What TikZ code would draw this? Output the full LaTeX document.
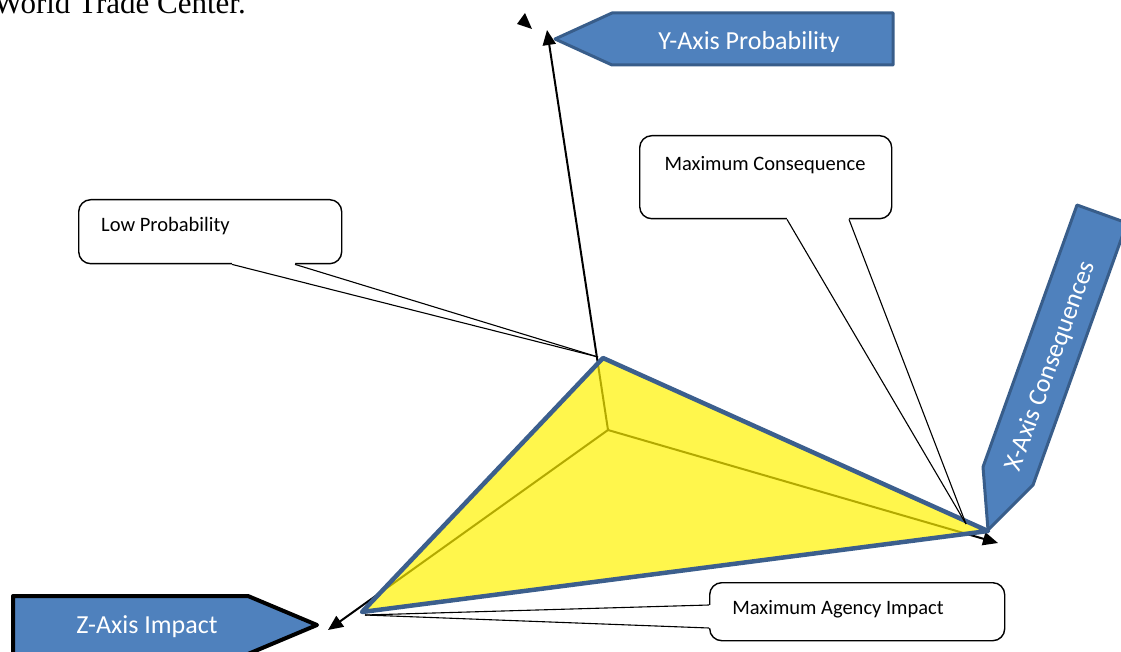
\documentclass[tikz,border=0pt]{standalone}
\usepackage{fontspec}
\setmainfont{Liberation Serif}
\setsansfont{Carlito}
\usetikzlibrary{arrows.meta,calc}
\definecolor{axisblue}{HTML}{4F81BD}
\definecolor{axisedge}{HTML}{385D8A}
\definecolor{pyredge}{HTML}{3C5F8D}
\begin{document}
\begin{tikzpicture}[x=1pt,y=-1pt,
  axistag/.style={fill=axisblue,draw=axisedge,line width=3pt,line join=round},
  axislabel/.style={text=white,font=\sffamily\fontsize{26}{30}\selectfont,inner sep=0pt},
  axisline/.style={line width=2pt,-{Triangle[length=15pt,width=13pt]}},
  callout/.style={draw=black,line width=1.4pt,fill=white,rounded corners=12pt,inner sep=0pt},
  callouttext/.style={font=\sffamily\fontsize{20.5}{24}\selectfont,inner sep=0pt},
  pointer/.style={line width=1.1pt}]
\clip (0,0) rectangle (1121,652);

% heading line of the surrounding text
\node[font=\fontsize{31}{35}\selectfont,anchor=base east,inner sep=0pt] (wtc) at (246,14) {World Trade Center.};

% axis tags
\draw[axistag] (612,13) -- (893,13) -- (893,65) -- (612,65) -- (555,39) -- cycle;
\begin{scope}
  \clip (600,13) rectangle (893,51.5);
  \node[axislabel,anchor=base] (ylab) at (749,50) {Y-Axis Probability};
\end{scope}
\draw[axistag] (988,530) -- (983,467) -- (1077,205) -- (1127,223) -- (1033,485) -- cycle;
\node[axislabel,rotate=70] (xlab) at (1051,366) {X-Axis Consequences};
\draw[axistag,draw=black,line width=4pt] (13,596) -- (248,596) -- (317,625) -- (248,654) -- (13,654) -- cycle;
\node[axislabel,anchor=base] (zlab) at (147,633) {Z-Axis Impact};

% stray arrowhead
\fill (517,24) -- (525,13) -- (532,29) -- cycle;

% axes from the origin
\coordinate (O) at (608,430);
\coordinate (ytip) at (547,30);
\coordinate (ztip) at (328,630);
\coordinate (xtip) at (998,543);
\draw[axisline] (O) -- (ytip);
\draw[axisline] (O) -- (ztip);
\draw[axisline] (O) -- (xtip);

% pyramid face
\coordinate (A) at (603,358);
\coordinate (L) at (362,612);
\coordinate (R) at (988,531);
\fill[yellow,fill opacity=0.7] (A) -- (R) -- (L) -- cycle;
\draw[pyredge,line width=4.5pt,line join=round] (A) -- (R) -- (L) -- cycle;

% callouts
\node[callout,anchor=north west,minimum width=263pt,minimum height=64pt] (lowprob) at (78,199) {};
\node[callout,anchor=north west,minimum width=252pt,minimum height=83pt] (maxcons) at (639,135) {};
\node[callout,anchor=north west,minimum width=295pt,minimum height=58pt] (maxagency) at (709,582) {};

\coordinate (lpTip) at (598,357);
\coordinate (mcTip) at (966,524);
\coordinate (maTip) at (365,615);

% low probability pointer
\coordinate (lp1) at ($(lowprob.south west)+(154,0)$);
\coordinate (lp2) at ($(lowprob.south west)+(217,0)$);
\fill[white] ($(lp1)+(0,-3)$) -- (lp1) -- (lpTip) -- (lp2) -- ($(lp2)+(0,-3)$) -- cycle;
\draw[pointer] (lp1) -- (lpTip);
\draw[pointer] (lp2) -- (lpTip);

% maximum consequence pointer
\coordinate (mc1) at ($(maxcons.south west)+(148,0)$);
\coordinate (mc2) at ($(maxcons.south west)+(210,0)$);
\fill[white] ($(mc1)+(0,-3)$) -- (mc1) -- (mcTip) -- (mc2) -- ($(mc2)+(0,-3)$) -- cycle;
\draw[pointer] (mc1) -- (mcTip);
\draw[pointer] (mc2) -- (mcTip);

% maximum agency impact pointer
\coordinate (ma1) at ($(maxagency.north west)+(0,23)$);
\coordinate (ma2) at ($(maxagency.north west)+(0,46)$);
\fill[white] ($(ma1)+(3,0)$) -- (ma1) -- (maTip) -- (ma2) -- ($(ma2)+(3,0)$) -- cycle;
\draw[pointer] (ma1) -- (maTip);
\draw[pointer] (ma2) -- (maTip);

% callout texts
\node[callouttext,anchor=base west] (lptext) at (101,232) {Low Probability};
\node[callouttext,anchor=base] (mctext) at (765,171) {Maximum Consequence};
\node[callouttext,anchor=base] (matext) at (838,614) {Maximum Agency Impact};
\end{tikzpicture}
\end{document}
